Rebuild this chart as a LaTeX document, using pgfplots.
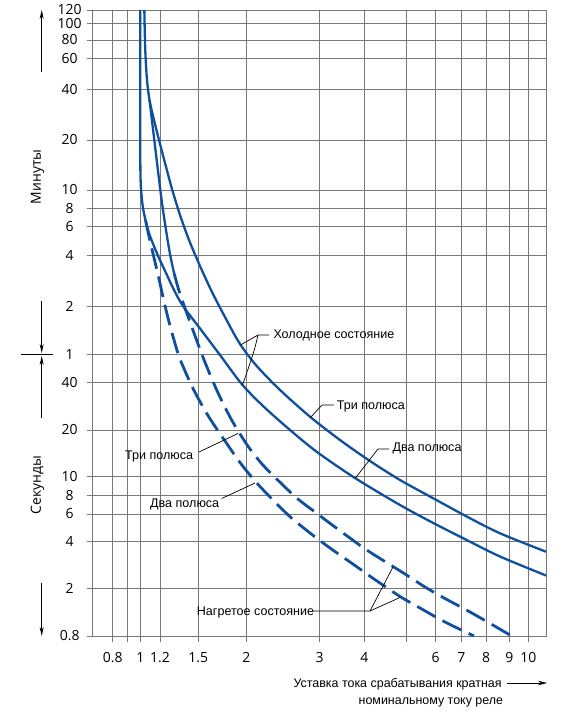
\documentclass[border=0pt]{standalone}
\usepackage{fontspec}
\setmainfont{Liberation Sans}
\newfontfamily\osans{Open Sans}
\usepackage{pgfplots}
\pgfplotsset{compat=1.18}
\usetikzlibrary{arrows.meta}

\definecolor{curve}{RGB}{14,80,158}
\definecolor{gridc}{RGB}{120,120,120}

% the printed scale is drawn by hand: piecewise log between the grid lines
\makeatletter
\newif\ifpw@done
\let\pw@stop\relax
\def\pw@stopmark{\pw@stop}
\newcommand\pwmap[2]{%
  \begingroup
    \pgfkeys{/pgf/fpu=true}%
    \pgfmathparse{#1}%
    \pgfmathfloattofixed{\pgfmathresult}\let\pw@x\pgfmathresult
    \pgfkeys{/pgf/fpu=false}%
    \pgfmathparse{ln(\pw@x)}\let\pw@lv\pgfmathresult
    \pw@donefalse
    \def\pw@out{0}%
    \expandafter\pw@first#2,\pw@stop/\pw@stop,%
    \xdef\pw@res{\pw@out}%
  \endgroup
  \let\pgfmathresult\pw@res}
\def\pw@first#1/#2,{\def\pw@av{#1}\def\pw@ap{#2}\pw@next}
\def\pw@next#1/#2,{%
  \def\pw@tmp{#1}%
  \ifx\pw@tmp\pw@stopmark
    \let\pw@go\relax
  \else
    \ifpw@done\else
      \pgfmathparse{(\pw@ap)+(\pw@lv-ln(\pw@av))/(ln(#1)-ln(\pw@av))*((#2)-(\pw@ap))}%
      \let\pw@out\pgfmathresult
      \pgfmathparse{ln(#1)-\pw@lv}%
      \ifdim\pgfmathresult pt>-0.00001pt\relax\pw@donetrue\fi
    \fi
    \def\pw@av{#1}\def\pw@ap{#2}%
    \let\pw@go\pw@next
  \fi
  \pw@go}
\makeatother

\def\xknots{0.68/0,0.8/20,0.9/35,1/47.6,1.2/67.3,1.5/105.6,2/153.6,3/227,4/271.6,5/313.3,6/342.8,7/368.6,8/393.3,9/416.6,10/435.6,11/453.3}
\def\yknots{0.8/0,2/47.3,4/95,6/122,8/140.7,10/159.3,20/206,40/253.7,60/281.7,120/330,240/380.3,360/409.3,480/427.5,600/446,1200/496,2400/546.7,3600/577.7,4800/596,6000/612.7,7200/626}

\begin{document}
\begin{tikzpicture}
\begin{axis}[
  at={(0,0)}, anchor=south west,
  scale only axis, width=453.3bp, height=626bp,
  x coord trafo/.code={\pwmap{#1}{\xknots}},
  y coord trafo/.code={\pwmap{#1}{\yknots}},
  xmin=0.68, xmax=11, ymin=0.8, ymax=7200,
  xtick={0.8,0.9,1,1.2,1.5,2,3,4,5,6,7,8,9,10},
  xticklabels={0.8,,1,1.2,1.5,2,3,4,,6,7,8,9,10},
  ytick={0.8,2,4,6,8,10,20,40,60,120,240,360,480,600,1200,2400,3600,4800,6000,7200},
  yticklabels={0.8,2,4,6,8,10,20,40,1,2,4,6,8,10,20,40,60,80,100,120},
  grid=major, grid style={gridc, line width=0.8bp},
  axis line style={gridc, line width=0.9bp},
  tick pos=left, tick align=outside, major tick length=6bp,
  tick style={gridc, line width=0.8bp},
  ticklabel style={font=\osans\fontsize{14}{16}\selectfont},
  xticklabel style={yshift=-7bp},
  yticklabel style={anchor=center, xshift=-17bp},
]
% cold state, three poles
\addplot[curve, line width=2.3bp, smooth, tension=0.5] coordinates {
(1.038,7200) (1.047,4102) (1.064,2710) (1.089,2073) (1.135,1577) (1.189,1200)
(1.2355,872.4) (1.2869,608.4) (1.3483,433.1) (1.4209,298.9) (1.5154,208.2)
(1.6284,145.5) (1.7709,99.58) (1.9259,69.56) (2.1183,50.65) (2.4092,35.77)
(2.8435,24.26) (3.4197,17.24) (4.124,12.62) (4.842,9.612) (5.919,7.639)
(7.207,5.779) (8.587,4.49) (11,3.424)};
% cold state, two poles
\addplot[curve, line width=2.3bp, smooth, tension=0.5] coordinates {
(1,7200) (1,1044.7) (1.0028,689.2) (1.0112,564.9) (1.0253,482.9) (1.0493,400.2)
(1.0838,329.6) (1.1299,278.7) (1.189,232.5) (1.2427,189.1) (1.302,149.6)
(1.3721,120) (1.5154,86.88) (1.7083,59.4) (1.9456,39.02) (2.1933,28.35)
(2.5461,20) (2.9558,14.43) (3.767,9.845) (4.842,6.891) (5.919,5.241)
(7.207,4.06) (8.587,3.193) (11,2.423)};
% hot state, three poles: solid where it leaves the cold curve, then dashed
\addplot[curve, line width=2.3bp, smooth, tension=0.5] coordinates {
(1.089,2073) (1.1195,1473) (1.151,1044.7) (1.1834,738.7) (1.2141,512.9)
(1.2427,343.8) (1.272,245.8) (1.302,189.1)};
\addplot[curve, line width=2.8bp, smooth, tension=0.5, dash pattern=on 21bp off 8bp] coordinates {
(1.302,189.1) (1.3483,141.6) (1.4292,95.38) (1.5456,56.87) (1.6749,35.77)
(1.8138,24.16) (1.926,18.85) (2.041,15.09) (2.181,12.07) (2.3657,9.728)
(2.642,7.675) (2.9507,6.065) (3.457,4.579) (4.052,3.51) (4.672,2.753)
(4.973,2.476) (5.623,2.05) (6.35,1.654) (7.076,1.368) (7.884,1.101) (9.12,0.8)};
% hot state, two poles
\addplot[curve, line width=2.8bp, smooth, tension=0.5, dash pattern=on 21bp off 8bp] coordinates {
(1.0493,400.2) (1.0739,334.3) (1.1041,278.7) (1.1457,220) (1.189,174.1)
(1.2212,135.8) (1.2573,101) (1.302,73.67) (1.348,56.05) (1.4569,36.29)
(1.5926,24.51) (1.7603,16.99) (1.926,12.35) (2.0985,9.497) (2.2797,7.793)
(2.5461,5.762) (2.8435,4.511) (3.206,3.613) (3.809,2.753) (4.197,2.32)
(4.842,1.72) (5.452,1.376) (6.35,1.049) (7.497,0.8)};
\end{axis}

% labels and leaders, in the reference's pixel frame
\begin{scope}[shift={(-92.7bp,636bp)}, x=1bp, y=-1bp]
  \tikzset{lbl/.style={anchor=base west, inner sep=0pt, font=\fontsize{12.6}{14}\selectfont}}
  \draw[line width=0.7bp] (269,335) -- (258,335) -- (240.5,345);
  \draw[line width=0.7bp] (258,335) .. controls (254,352) .. (242.5,385);
  \node[lbl] at (273.3,339) {Холодное состояние};

  \draw[line width=0.7bp] (334,405) -- (322,405) -- (310.5,417.5);
  \node[lbl] at (336.7,409.5) {Три полюса};

  \draw[line width=0.7bp] (389,449) -- (378,449) -- (355.5,478);
  \node[lbl] at (392.3,452) {Два полюса};

  \draw[line width=0.7bp] (199,452) -- (238,433.5);
  \node[lbl] at (125,459.5) {Три полюса};

  \draw[line width=0.7bp] (221.7,498.5) -- (255,483);
  \node[lbl] at (150,508) {Два полюса};

  \draw[line width=0.7bp] (313,611) -- (370,611) -- (393,567);
  \draw[line width=0.7bp] (370,611) -- (400,597.5);
  \node[lbl] at (196.7,615.3) {Нагретое состояние};

  \node[anchor=base west, inner sep=0pt, font=\fontsize{12.5}{14}\selectfont] at (293.3,687) {Уставка тока срабатывания кратная};
  \node[anchor=base east, inner sep=0pt, font=\fontsize{12.5}{14}\selectfont] at (503.3,704.3) {номинальному току реле};
  \draw[line width=0.8bp, -{Stealth[length=9bp,width=4.5bp]}] (507,683) -- (547,683);

  \node[rotate=90, font=\osans\fontsize{14}{16}\selectfont] at (37.5,177) {Минуты};
  \node[rotate=90, font=\osans\fontsize{14}{16}\selectfont] at (37.5,485) {Секунды};
  \draw[line width=0.8bp, -{Stealth[length=9bp,width=4bp]}] (41.7,72) -- (41.7,10);
  \draw[line width=0.8bp, -{Stealth[length=9bp,width=4bp]}] (41.7,301) -- (41.7,353);
  \draw[line width=0.8bp] (21,354.3) -- (53,354.3);
  \draw[line width=0.8bp, -{Stealth[length=9bp,width=4bp]}] (41.7,418) -- (41.7,356);
  \draw[line width=0.8bp, -{Stealth[length=9bp,width=4bp]}] (41.7,583) -- (41.7,636);

  \pgfresetboundingbox
  \path[use as bounding box] (0,0) rectangle (567,718);
\end{scope}
\end{tikzpicture}
\end{document}
